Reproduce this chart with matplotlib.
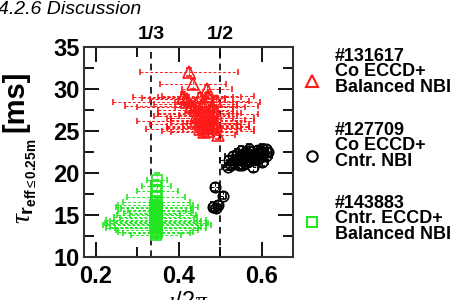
import matplotlib
matplotlib.use('Agg')
import matplotlib.pyplot as plt
from matplotlib.ticker import MultipleLocator

plt.rcParams['font.family'] = ['Liberation Sans', 'DejaVu Sans']
plt.rcParams['mathtext.fontset'] = 'custom'
plt.rcParams['mathtext.rm'] = 'Liberation Sans'
plt.rcParams['mathtext.bf'] = 'Liberation Sans:bold'
plt.rcParams['mathtext.it'] = 'Liberation Serif:italic'

######## dados ########
# #131617 Co ECCD + Balanced NBI (triangulos vermelhos)
red_x = [0.424, 0.434, 0.467, 0.418, 0.41, 0.42, 0.44, 0.45, 0.46, 0.47,
         0.48, 0.49, 0.43, 0.44, 0.45, 0.46, 0.47, 0.48, 0.44, 0.45,
         0.46, 0.47, 0.48, 0.49, 0.45, 0.46, 0.47, 0.48, 0.44, 0.46,
         0.47, 0.48, 0.49, 0.45, 0.46, 0.47, 0.494, 0.43, 0.41, 0.48]
red_y = [32.0, 30.6, 30.0, 28.4, 29.0, 28.8, 28.2, 29.0, 28.5, 29.2,
         28.0, 28.6, 27.8, 27.5, 27.2, 27.8, 27.0, 27.4, 26.8, 26.5,
         26.9, 26.3, 26.6, 27.1, 25.8, 26.0, 25.6, 25.9, 26.2, 25.3,
         25.0, 25.4, 25.7, 25.2, 24.9, 25.5, 24.5, 28.0, 28.9, 26.0]
red_xerr = [0.118, 0.08, 0.06, 0.177, 0.12, 0.09, 0.10, 0.1, 0.07, 0.11,
            0.06, 0.08, 0.13, 0.09, 0.1, 0.07, 0.12, 0.05, 0.1, 0.08,
            0.06, 0.09, 0.1, 0.05, 0.12, 0.08, 0.1, 0.06, 0.14, 0.09,
            0.11, 0.07, 0.05, 0.13, 0.08, 0.1, 0.04, 0.16, 0.1, 0.07]
red_yerr = [0.5, 0.6, 0.5, 0.4, 0.6, 0.5, 0.7, 0.5, 0.6, 0.4,
            0.5, 0.6, 0.7, 0.5, 0.4, 0.6, 0.5, 0.6, 0.5, 0.7,
            0.4, 0.5, 0.6, 0.5, 0.5, 0.6, 0.4, 0.5, 0.6, 0.5,
            0.4, 0.6, 0.5, 0.5, 0.6, 0.4, 0.5, 0.6, 0.5, 0.4]

# #127709 Co ECCD + Cntr. NBI (circulos pretos)
blk_x = [0.487, 0.506, 0.482, 0.49, 0.495, 0.518, 0.552, 0.578, 0.52, 0.53,
         0.54, 0.55, 0.56, 0.57, 0.58, 0.59, 0.60, 0.61, 0.53, 0.54,
         0.55, 0.56, 0.57, 0.58, 0.59, 0.60, 0.61, 0.56, 0.57, 0.58,
         0.59, 0.60, 0.55, 0.57, 0.59, 0.60, 0.615, 0.525, 0.545, 0.565]
blk_y = [18.3, 17.3, 16.0, 15.8, 16.2, 20.7, 21.0, 20.7, 21.5, 21.3,
         21.6, 21.8, 21.5, 21.9, 22.0, 21.7, 22.2, 22.0, 22.0, 22.3,
         22.1, 22.4, 22.6, 22.3, 22.7, 22.5, 22.8, 21.2, 21.4, 21.6,
         21.9, 21.3, 22.6, 22.9, 22.4, 22.9, 22.5, 20.9, 21.0, 22.2]
blk_xerr = [0.01, 0.008, 0.01, 0.012, 0.008, 0.015, 0.01, 0.012, 0.02, 0.015,
            0.01, 0.012, 0.018, 0.01, 0.015, 0.012, 0.01, 0.014, 0.02, 0.01,
            0.012, 0.015, 0.01, 0.012, 0.018, 0.01, 0.012, 0.015, 0.01, 0.012,
            0.01, 0.015, 0.012, 0.01, 0.014, 0.012, 0.01, 0.015, 0.012, 0.01]
blk_yerr = [0.5, 0.4, 0.5, 0.4, 0.5, 0.4, 0.5, 0.6, 0.5, 0.4,
            0.5, 0.6, 0.5, 0.4, 0.5, 0.5, 0.6, 0.4, 0.5, 0.5,
            0.4, 0.6, 0.5, 0.4, 0.5, 0.6, 0.5, 0.4, 0.5, 0.5,
            0.4, 0.5, 0.6, 0.5, 0.4, 0.5, 0.5, 0.4, 0.5, 0.6]

# #143883 Cntr. ECCD + Balanced NBI (quadrados verdes)
grn_x = [0.347, 0.345, 0.348, 0.344, 0.346, 0.343, 0.347, 0.345, 0.344, 0.348,
         0.346, 0.343, 0.347, 0.345, 0.344, 0.346, 0.348, 0.343, 0.345, 0.347,
         0.344, 0.346, 0.345, 0.347, 0.344, 0.346, 0.345, 0.343]
grn_y = [19.2, 18.5, 17.8, 17.2, 16.5, 16.2, 16.0, 15.8, 15.5, 15.2,
         15.0, 14.8, 14.6, 14.4, 14.2, 14.0, 13.8, 13.6, 13.4, 13.2,
         13.0, 12.8, 12.6, 15.6, 14.3, 13.9, 13.5, 15.1]
grn_xerr = [0.025, 0.035, 0.05, 0.07, 0.08, 0.09, 0.1, 0.085, 0.09, 0.08,
            0.095, 0.1, 0.09, 0.12, 0.1, 0.125, 0.13, 0.11, 0.12, 0.1,
            0.09, 0.08, 0.06, 0.07, 0.11, 0.12, 0.1, 0.06]
grn_yerr = [0.8, 0.7, 0.8, 0.6, 0.7, 0.6, 0.5, 0.6, 0.5, 0.6,
            0.5, 0.4, 0.5, 0.4, 0.5, 0.4, 0.5, 0.4, 0.5, 0.4,
            0.5, 0.4, 0.5, 0.6, 0.5, 0.4, 0.5, 0.6]

cor_red = '#ff1a1a'
cor_grn = '#22e622'

W, H = 456, 300
fig = plt.figure(figsize=(W / 100, H / 100), dpi=100)
ax = fig.add_axes([84 / W, 43 / H, 209 / W, 210 / H])


def serie(x, y, xe, ye, cor, marker, ms):
    eb = ax.errorbar(x, y, xerr=xe, yerr=ye, fmt=marker, ms=ms, mfc='none',
                     mec=cor, mew=1.2, ecolor=cor, elinewidth=0.7,
                     capsize=2, capthick=0.7, zorder=3)
    for lc in eb[2]:
        lc.set_linestyle((0, (3, 2)))


serie(red_x, red_y, red_xerr, red_yerr, cor_red, '^', 9)
serie(grn_x, grn_y, grn_xerr, grn_yerr, cor_grn, 's', 6.5)
serie(blk_x, blk_y, blk_xerr, blk_yerr, 'black', 'o', 7.5)

# linhas racionais 1/3 e 1/2
for xv, lab in [(1/3, '1/3'), (1/2, '1/2')]:
    ax.axvline(xv, color='black', linestyle=(0, (4, 3)), lw=1.2, zorder=2)
    ax.text(xv, 1.02, lab, transform=ax.get_xaxis_transform(), ha='center',
            va='bottom', fontsize=14, fontweight='bold')

ax.set_xlim(0.171, 0.675)
ax.set_ylim(10, 35)
ax.xaxis.set_minor_locator(MultipleLocator(0.1))
ax.yaxis.set_major_locator(MultipleLocator(5))
ax.yaxis.set_minor_locator(MultipleLocator(2.5))
ax.set_xticks([0.2, 0.4, 0.6])
ax.set_xticklabels(['0.2', '0.4', '0.6'])
ax.tick_params(which='both', direction='in', top=True, right=True, width=1.3,
               labelsize=17)
ax.tick_params(axis='x', which='both', pad=6)
ax.tick_params(axis='y', which='both', pad=3)
ax.tick_params(which='major', length=11)
ax.tick_params(which='minor', length=7)
for lab in ax.get_xticklabels() + ax.get_yticklabels():
    lab.set_fontweight('bold')
for sp in ax.spines.values():
    sp.set_linewidth(1.5)
    sp.set_color('#333333')

# rotulo do eixo y em dois pedacos
fig.text(15 / W, 1 - 101 / H, '[ms]', fontsize=21, fontweight='bold',
         rotation=90, ha='center', va='center')
fig.text(26 / W, 1 - 181 / H,
         r'$\tau_{\mathbf{r}_{\mathbf{eff}\leq\mathbf{0.25m}}}$',
         fontsize=20, rotation=90, ha='center', va='center')
# rotulo do eixo x (cortado pela borda, como no original)
fig.text(188 / W, 1 - 291 / H, r'$\iota/2\pi$', fontsize=17, ha='center',
         va='top')

# cabecalho da pagina
fig.text(-0.004, 1 - 13.5 / H, '4.2.6 Discussion', fontsize=14,
         style='italic', ha='left', va='baseline')

# legenda feita a mao
legenda = [('#131617\nCo ECCD+\nBalanced NBI', 48, 81, '^', cor_red, 9),
           ('#127709\nCo ECCD+\nCntr. NBI', 122, 156, 'o', 'black', 7.5),
           ('#143883\nCntr. ECCD+\nBalanced NBI', 195, 222, 's', cor_grn, 7)]
for txt, ytop, ymk, mk, cor, ms in legenda:
    fig.text(335 / W, 1 - ytop / H, txt, fontsize=13, fontweight='bold',
             ha='left', va='top', linespacing=0.88)
    fig.lines.append(plt.Line2D([312 / W], [1 - ymk / H], marker=mk,
                                ms=ms, mfc='none', mec=cor, mew=1.5,
                                linestyle='none', transform=fig.transFigure))

fig.savefig('out.png', dpi=100)
